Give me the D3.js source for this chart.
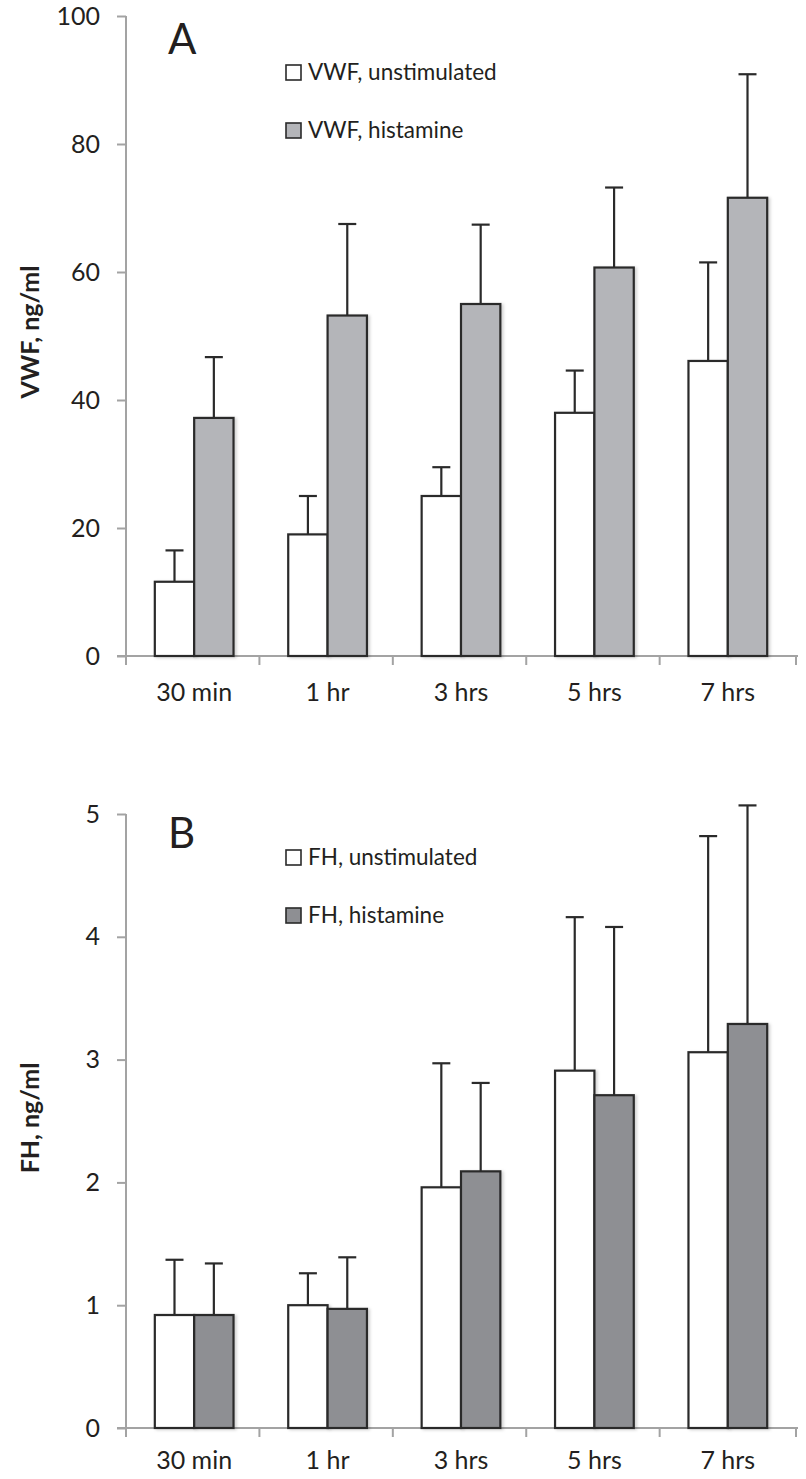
<!DOCTYPE html>
<html>
<head>
<meta charset="utf-8">
<script src="https://cdn.jsdelivr.net/npm/d3@7"></script>
<style>
  html, body { margin: 0; padding: 0; background: #fff; }
  svg { display: block; font-family: Lato, "Open Sans", sans-serif; }
</style>
</head>
<body>
<div id="chart"></div>
<script>
// time points shared by both panels
const timepoints = ["30 min", "1 hr", "3 hrs", "5 hrs", "7 hrs"];

// panel A: VWF, ng/ml (bar value, top of error bar)
const vwf_unstim     = [11.6, 19.0, 25.0, 38.0, 46.1];
const vwf_unstim_err = [16.5, 25.0, 29.5, 44.6, 61.5];
const vwf_hist       = [37.2, 53.2, 55.0, 60.7, 71.6];
const vwf_hist_err   = [46.7, 67.5, 67.4, 73.2, 90.9];
const vwf_ticks      = [0, 20, 40, 60, 80, 100];

// panel B: FH, ng/ml
const fh_unstim     = [0.92, 1.0, 1.96, 2.91, 3.06];
const fh_unstim_err = [1.37, 1.26, 2.97, 4.16, 4.82];
const fh_hist       = [0.92, 0.97, 2.09, 2.71, 3.29];
const fh_hist_err   = [1.34, 1.39, 2.81, 4.08, 5.07];
const fh_ticks      = [0, 1, 2, 3, 4, 5];

const W = 806, H = 1479;
const axisColor = "#a3a3a3";
const barStroke = "#2a2a2a";
const textColor = "#231f20";

const svg = d3.select("#chart").append("svg")
  .attr("width", W)
  .attr("height", H);

const defs = svg.append("defs");
const shadow = defs.append("filter")
  .attr("id", "shadow")
  .attr("x", "-20%").attr("y", "-5%")
  .attr("width", "150%").attr("height", "115%");
shadow.append("feDropShadow")
  .attr("dx", 2).attr("dy", 1)
  .attr("stdDeviation", 1.5)
  .attr("flood-color", "#000")
  .attr("flood-opacity", 0.18);

function drawPanel(opts) {
  const g = svg.append("g");
  const x0 = 126, x1 = 796;

  const y = d3.scaleLinear()
    .domain([0, opts.ticks[opts.ticks.length - 1]])
    .range([opts.bottom, opts.top]);

  const x = d3.scaleBand()
    .domain(timepoints)
    .range([x0, x1])
    .paddingInner(0.41)
    .paddingOuter(0.216);

  const xs = d3.scaleBand()
    .domain(["unstim", "hist"])
    .range([0, x.bandwidth()]);

  // y axis
  const yAxis = g.append("g")
    .attr("transform", `translate(${x0},0)`)
    .call(d3.axisLeft(y).tickValues(opts.ticks).tickSize(9).tickPadding(17).tickFormat(d3.format("d")));
  yAxis.select(".domain").attr("stroke", axisColor).attr("stroke-width", 2)
    .attr("d", `M0,${opts.top}V${opts.bottom + 9}`);
  yAxis.selectAll(".tick line").attr("stroke", axisColor).attr("stroke-width", 2);
  yAxis.selectAll(".tick text")
    .attr("fill", textColor)
    .attr("font-size", 25)
    .attr("font-family", "Lato, sans-serif");

  // x axis
  const xAxis = g.append("g")
    .attr("transform", `translate(0,${opts.bottom})`);
  xAxis.append("line")
    .attr("x1", x0 - 9).attr("x2", x1 + 2)
    .attr("stroke", axisColor).attr("stroke-width", 2);
  const seps = timepoints.map(d => x(d) - x.step() * x.paddingOuter()).concat([x1]);
  xAxis.selectAll("line.sep")
    .data(seps)
    .enter().append("line")
    .attr("class", "sep")
    .attr("x1", d => d)
    .attr("x2", d => d)
    .attr("y1", 0).attr("y2", 9)
    .attr("stroke", axisColor).attr("stroke-width", 2);
  xAxis.selectAll("text")
    .data(timepoints)
    .enter().append("text")
    .attr("x", d => x(d) + x.bandwidth() / 2)
    .attr("y", opts.labelY - opts.bottom)
    .attr("text-anchor", "middle")
    .attr("fill", textColor)
    .attr("font-size", 25)
    .text(d => d);

  const series = [
    {key: "unstim", vals: opts.unstim, err: opts.unstimErr, fill: "#ffffff"},
    {key: "hist", vals: opts.hist, err: opts.histErr, fill: opts.histFill}
  ];

  series.forEach(s => {
    const sg = g.append("g");
    // error bars (upper only), drawn behind the bars
    sg.selectAll("line.err")
      .data(timepoints)
      .enter().append("line")
      .attr("class", "err")
      .attr("x1", (d) => x(d) + xs(s.key) + xs.bandwidth() / 2)
      .attr("x2", (d) => x(d) + xs(s.key) + xs.bandwidth() / 2)
      .attr("y1", (d, i) => y(s.vals[i]))
      .attr("y2", (d, i) => y(s.err[i]))
      .attr("stroke", barStroke).attr("stroke-width", 2.2);
    sg.selectAll("line.cap")
      .data(timepoints)
      .enter().append("line")
      .attr("class", "cap")
      .attr("x1", (d) => x(d) + xs(s.key) + xs.bandwidth() / 2 - 9)
      .attr("x2", (d) => x(d) + xs(s.key) + xs.bandwidth() / 2 + 9)
      .attr("y1", (d, i) => y(s.err[i]))
      .attr("y2", (d, i) => y(s.err[i]))
      .attr("stroke", barStroke).attr("stroke-width", 2.2);
  });

  series.forEach(s => {
    g.append("g").selectAll("rect")
      .data(timepoints)
      .enter().append("rect")
      .attr("x", d => x(d) + xs(s.key))
      .attr("y", (d, i) => y(s.vals[i]))
      .attr("width", xs.bandwidth())
      .attr("height", (d, i) => y(0) - y(s.vals[i]))
      .attr("fill", s.fill)
      .attr("stroke", barStroke)
      .attr("stroke-width", 2.2)
      .attr("filter", "url(#shadow)");
  });

  // panel letter
  g.append("text")
    .attr("x", 168).attr("y", opts.letterY)
    .attr("fill", textColor)
    .attr("font-size", 42)
    .text(opts.letter);

  // legend
  const leg = g.append("g").attr("transform", `translate(286,${opts.legendY})`);
  [{label: opts.names[0], fill: "#ffffff"}, {label: opts.names[1], fill: opts.histFill}].forEach((l, i) => {
    leg.append("rect")
      .attr("x", 0).attr("y", i * 58 - 15)
      .attr("width", 15).attr("height", 15)
      .attr("fill", l.fill)
      .attr("stroke", barStroke).attr("stroke-width", 1.6);
    leg.append("text")
      .attr("x", 22).attr("y", i * 58)
      .attr("fill", textColor)
      .attr("font-size", 22.5)
      .text(l.label);
  });

  // y title
  g.append("text")
    .attr("transform", `translate(39,${opts.titleY}) rotate(-90)`)
    .attr("text-anchor", "middle")
    .attr("fill", textColor)
    .attr("font-size", 25)
    .attr("font-weight", "bold")
    .text(opts.title);
}

drawPanel({
  letter: "A", title: "VWF, ng/ml",
  names: ["VWF, unstimulated", "VWF, histamine"],
  ticks: vwf_ticks, top: 16, bottom: 656, labelY: 701,
  letterY: 54, legendY: 80, titleY: 332,
  unstim: vwf_unstim, unstimErr: vwf_unstim_err,
  hist: vwf_hist, histErr: vwf_hist_err,
  histFill: "#b4b5b9"
});

drawPanel({
  letter: "B", title: "FH, ng/ml",
  names: ["FH, unstimulated", "FH, histamine"],
  ticks: fh_ticks, top: 814, bottom: 1428, labelY: 1469,
  letterY: 848, legendY: 865, titleY: 1118,
  unstim: fh_unstim, unstimErr: fh_unstim_err,
  hist: fh_hist, histErr: fh_hist_err,
  histFill: "#8e8f93"
});
</script>
</body>
</html>
